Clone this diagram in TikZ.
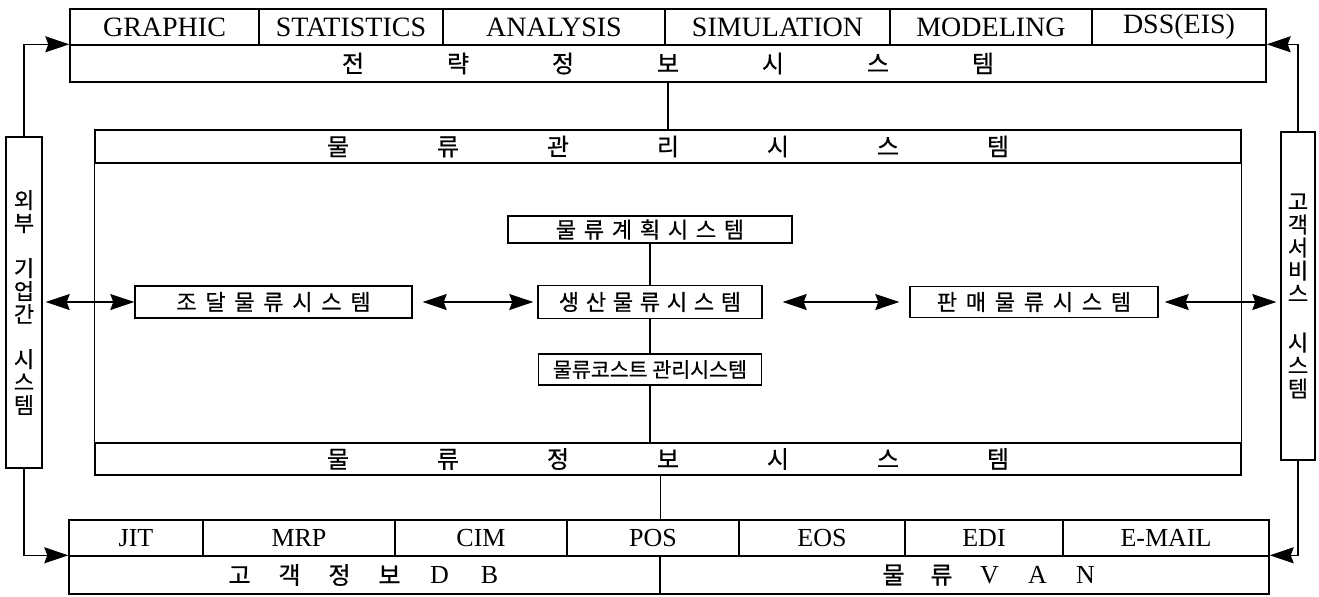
\documentclass[tikz,border=0pt]{standalone}
\usepackage{fontspec}
\setmainfont{Liberation Serif}
\newfontfamily\kor[FakeBold=0.6]{Noto Sans CJK KR}
\usetikzlibrary{arrows.meta}

% letters set on a fixed pitch
\newcommand{\spreadlabel}[2]{\foreach \ch in {#2}{\makebox[#1]{\ch}}}
\newcommand{\lat}[1]{{\rmfamily\fontsize{13}{15}\selectfont #1}}

\begin{document}
\begin{tikzpicture}[x=0.5pt, y=-0.5pt, line width=0.7pt,
cell/.style={draw, inner sep=0pt, minimum height=18pt, font=\fontsize{14}{16}\selectfont},
smallcell/.style={cell, font=\fontsize{13}{15}\selectfont},
bar/.style={draw, inner sep=0pt, font=\kor\fontsize{12}{14}\selectfont},
sysbox/.style={draw, inner sep=0pt, font=\kor\fontsize{11}{13}\selectfont},
side/.style={draw, inner sep=0pt, align=center, font=\kor\fontsize{11}{11.5}\selectfont},
arrow/.style={-{Stealth[length=12pt,width=8pt,inset=1.5pt]}},
twoway/.style={{Stealth[length=12pt,width=8pt,inset=1.5pt]}-{Stealth[length=12pt,width=8pt,inset=1.5pt]}}
]
\useasboundingbox (0,0) rectangle (1319,596);

% strategic information system
\node[cell, minimum width=94.5pt] (graphic) at (164.5,27) {GRAPHIC};
\node[cell, minimum width=92pt] (statistics) at (351,27) {STATISTICS};
\node[cell, minimum width=111pt] (analysis) at (554,27) {ANALYSIS};
\node[cell, minimum width=112.5pt] (simulation) at (777.5,27) {SIMULATION};
\node[cell, minimum width=101pt] (modeling) at (991,27) {MODELING};
\node[cell, minimum width=87pt] (dss) at (1179,27) {DSS(EIS)};
\node[bar, minimum width=598pt, minimum height=18.5pt] (strategic) at (668,63.5)
  {\spreadlabel{52.5pt}{전,략,정,보,시,스,템}};

% logistics management frame
\node[bar, minimum width=573pt, minimum height=16.5pt] (management) at (668,146.5)
  {\spreadlabel{55pt}{물,류,관,리,시,스,템}};
\node[bar, minimum width=573pt, minimum height=16pt] (information) at (668,459)
  {\spreadlabel{55pt}{물,류,정,보,시,스,템}};
\draw (management.north west) rectangle (information.south east);

\node[sysbox, minimum width=142pt, minimum height=13.5pt] (planning) at (650,229.5)
  {\spreadlabel{14pt}{물,류,계,획,시,스,템}};
\node[sysbox, minimum width=112pt, minimum height=16.5pt] (production) at (650,302)
  {\spreadlabel{13.5pt}{생,산,물,류,시,스,템}};
\node[sysbox, minimum width=111.5pt, minimum height=15.5pt, font=\kor\fontsize{10.3}{12}\selectfont] (cost) at (650,369.5)
  {물류코스트 관리시스템};
\node[sysbox, minimum width=138.5pt, minimum height=16pt] (procurement) at (273.5,302)
  {\spreadlabel{14.5pt}{조,달,물,류,시,스,템}};
\node[sysbox, minimum width=124pt, minimum height=15.5pt] (sales) at (1034,302)
  {\spreadlabel{14.5pt}{판,매,물,류,시,스,템}};

% side systems
\node[side, minimum width=18pt, minimum height=165.5pt] (external) at (24,302.5)
  {외\\부\\[11pt]기\\업\\간\\[11pt]시\\스\\템};
\node[side, minimum width=17pt, minimum height=164pt] (customer) at (1298,296)
  {고\\객\\서\\비\\스\\[13pt]시\\스\\템};

% network bar
\node[smallcell, minimum width=67pt] (jit) at (136,538) {JIT};
\node[smallcell, minimum width=96pt] (mrp) at (299,538) {MRP};
\node[smallcell, minimum width=86pt] (cim) at (481,538) {CIM};
\node[smallcell, minimum width=86pt] (pos) at (653,538) {POS};
\node[smallcell, minimum width=83pt] (eos) at (822,538) {EOS};
\node[smallcell, minimum width=79pt] (edi) at (984,538) {EDI};
\node[smallcell, minimum width=103pt] (email) at (1166,538) {E-MAIL};
\node[bar, minimum width=295.5pt, minimum height=19pt] (customerdb) at (364.5,575)
  {\spreadlabel{25pt}{고,객,정,보,\lat{D},\lat{B}}};
\node[bar, minimum width=304.5pt, minimum height=19pt] (van) at (964.5,575)
  {\hspace*{25pt}\spreadlabel{24pt}{물,류,\lat{V},\lat{A},\lat{N}}};

% links
\draw (strategic.south) -- (management.north);
\draw (planning) -- (production);
\draw (production) -- (cost);
\draw (cost) -- (cost |- information.north);
\draw (information.south -| customerdb.east) -- (customerdb.east |- pos.north);

\draw[arrow] (external.north) |- (strategic.north west);
\draw[arrow] (customer.north) |- (strategic.north east);
\draw[arrow] (external.south) |- (customerdb.north west);
\draw[arrow] (customer.south) |- (van.north east);

\draw[twoway, shorten <=1.5pt] (procurement.west -| external.east) -- (procurement.west);
\draw[twoway, shorten <=5pt, shorten >=2pt] (procurement.east) -- (production.west);
\draw[twoway, shorten <=10pt, shorten >=5pt] (production.east) -- (sales.west);
\draw[twoway, shorten <=3pt, shorten >=2pt] (sales.east) -- (sales.east -| customer.west);
\end{tikzpicture}
\end{document}
